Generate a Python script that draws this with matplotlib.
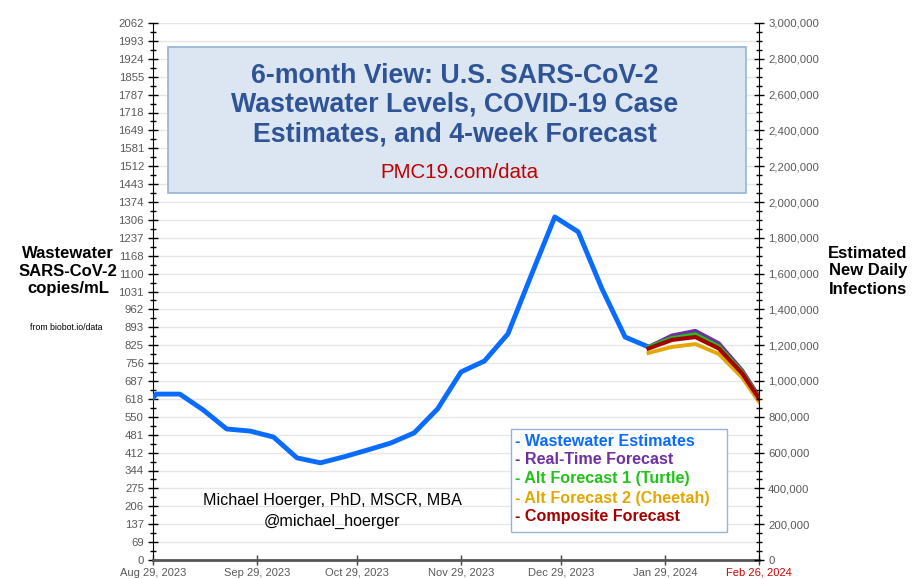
import numpy as np
import pandas as pd
import matplotlib
matplotlib.use("Agg")
import matplotlib.pyplot as plt
from matplotlib.patches import Rectangle
from matplotlib.ticker import FixedLocator, MultipleLocator, FuncFormatter

plt.rcParams['font.family'] = ['Liberation Sans', 'DejaVu Sans']

# =====================================================
# Data
# =====================================================

ww_dates = pd.to_datetime([
    "2023-08-23", "2023-08-30", "2023-09-06", "2023-09-13", "2023-09-20",
    "2023-09-27", "2023-10-04", "2023-10-11", "2023-10-18", "2023-10-25",
    "2023-11-01", "2023-11-08", "2023-11-15", "2023-11-22", "2023-11-29",
    "2023-12-06", "2023-12-13", "2023-12-20", "2023-12-27", "2024-01-03",
    "2024-01-10", "2024-01-17", "2024-01-24",
])
ww_values = [
    540, 637, 637, 576, 503,
    495, 472, 392, 373, 396,
    422, 449, 488, 580, 722,
    764, 868, 1094, 1317, 1260,
    1044, 856, 818,
]

fc_dates = pd.to_datetime([
    "2024-01-24", "2024-01-31", "2024-02-07", "2024-02-14",
    "2024-02-21", "2024-02-26",
])
realtime_fc = [818, 862, 880, 832, 728, 628]
turtle_fc = [818, 852, 866, 820, 722, 624]
cheetah_fc = [795, 818, 829, 791, 700, 607]
composite_fc = [812, 845, 856, 812, 716, 620]

left_max = 2061.57
left_tick_labels = [
    "0", "69", "137", "206", "275", "344", "412", "481", "550", "618",
    "687", "756", "825", "893", "962", "1031", "1100", "1168", "1237",
    "1306", "1374", "1443", "1512", "1581", "1649", "1718", "1787", "1855",
    "1924", "1993", "2062",
]
right_max = 3000000

x_tick_dates = pd.to_datetime([
    "2023-08-29", "2023-09-29", "2023-10-29", "2023-11-29",
    "2023-12-29", "2024-01-29", "2024-02-26",
])
x_tick_labels = [
    "Aug 29, 2023", "Sep 29, 2023", "Oct 29, 2023", "Nov 29, 2023",
    "Dec 29, 2023", "Jan 29, 2024", "Feb 26, 2024",
]

legend_labels = [
    "- Wastewater Estimates",
    "- Real-Time Forecast",
    "- Alt Forecast 1 (Turtle)",
    "- Alt Forecast 2 (Cheetah)",
    "- Composite Forecast",
]

C_BLUE = "#0a6bff"
C_PURPLE = "#7030a0"
C_GREEN = "#1fc31a"
C_YELLOW = "#e3a800"
C_RED = "#a50000"
legend_colors = [C_BLUE, C_PURPLE, C_GREEN, C_YELLOW, C_RED]

# =====================================================
# Figure
# =====================================================

fig = plt.figure(figsize=(9.19, 5.79), dpi=100)
ax = fig.add_axes([153 / 919, 1 - 560 / 579, 606 / 919, 537 / 579])

ax.plot(ww_dates, ww_values, color=C_BLUE, lw=3.5,
        solid_joinstyle="round", solid_capstyle="butt", zorder=5)
ax.plot(fc_dates, realtime_fc, color=C_PURPLE, lw=2.8, zorder=6)
ax.plot(fc_dates, turtle_fc, color=C_GREEN, lw=2.8, zorder=7)
ax.plot(fc_dates, cheetah_fc, color=C_YELLOW, lw=2.8, zorder=8)
ax.plot(fc_dates, composite_fc, color=C_RED, lw=3.0, zorder=9)

ax.set_xlim(pd.Timestamp("2023-08-29"), pd.Timestamp("2024-02-26"))
ax.set_ylim(0, left_max)

# left axis ticks
left_ticks = np.linspace(0, left_max, len(left_tick_labels))
ax.yaxis.set_major_locator(FixedLocator(left_ticks))
ax.set_yticklabels(left_tick_labels)
ax.yaxis.set_minor_locator(FixedLocator(left_ticks[:-1] + (left_ticks[1] - left_ticks[0]) / 2))
ax.tick_params(axis="y", which="major", direction="inout", length=7, width=1,
               colors="black", labelcolor="#595959", labelsize=8.2, pad=3)
ax.tick_params(axis="y", which="minor", direction="inout", length=5, width=1, colors="black")
ax.grid(axis="y", which="major", color="#e6e6e6", lw=1, zorder=0)

# x axis
ax.set_xticks(x_tick_dates)
ax.set_xticklabels(x_tick_labels)
ax.tick_params(axis="x", direction="inout", length=7, width=1, colors="#404040",
               labelcolor="#595959", labelsize=8, pad=2)
ax.get_xticklabels()[-1].set_color("#cc0000")
ax.get_xticklines()[-2].set_color("#cc0000")
ax.get_xticklines()[-1].set_color("#cc0000")

ax.spines["top"].set_visible(False)
ax.spines["right"].set_visible(False)
ax.spines["bottom"].set_color("#555555")
ax.spines["bottom"].set_linewidth(2)
ax.spines["left"].set_color("black")

# right axis
ax2 = ax.twinx()
ax2.set_ylim(0, right_max)
ax2.yaxis.set_major_locator(MultipleLocator(200000))
ax2.yaxis.set_minor_locator(MultipleLocator(50000))
ax2.yaxis.set_major_formatter(FuncFormatter(lambda v, p: f"{int(v):,}"))
ax2.tick_params(axis="y", which="major", direction="inout", length=7, width=1,
                colors="black", labelcolor="#595959", labelsize=8.2, pad=3)
ax2.tick_params(axis="y", which="minor", direction="inout", length=5, width=1, colors="black")
for side in ["top", "bottom", "left"]:
    ax2.spines[side].set_visible(False)
ax2.spines["right"].set_color("black")

# =====================================================
# Title box and annotations
# =====================================================

fig.patches.append(Rectangle((168 / 919, 1 - 193 / 579), 578 / 919, 146 / 579,
                             transform=fig.transFigure, facecolor="#dce6f2",
                             edgecolor="#95b3d7", lw=1.2, zorder=10))
title_lines = [
    "6-month View: U.S. SARS-CoV-2",
    "Wastewater Levels, COVID-19 Case",
    "Estimates, and 4-week Forecast",
]
for i, line in enumerate(title_lines):
    fig.text(455 / 919, 1 - (76 + 29 * i) / 579, line, ha="center", va="center",
             fontsize=19.3, fontweight="bold", color="#2f5496", zorder=11)
fig.text(459 / 919, 1 - 172 / 579, "PMC19.com/data", ha="center", va="center",
         fontsize=14.8, color="#c00000", zorder=11)

fig.text(68 / 919, 1 - 271 / 579, "Wastewater\nSARS-CoV-2\ncopies/mL",
         ha="center", va="center", fontsize=12, fontweight="bold",
         linespacing=1.25, color="black")
fig.text(66 / 919, 1 - 327 / 579, "from biobot.io/data", ha="center", va="center",
         fontsize=6.3, color="black")
fig.text(868 / 919, 1 - 271 / 579, "Estimated\nNew Daily\nInfections",
         ha="center", va="center", fontsize=12, fontweight="bold",
         linespacing=1.25, color="black")

fig.text(332 / 919, 1 - 500 / 579, "Michael Hoerger, PhD, MSCR, MBA",
         ha="center", va="center", fontsize=11.6, color="black")
fig.text(332 / 919, 1 - 521 / 579, "@michael_hoerger",
         ha="center", va="center", fontsize=11.6, color="black")

# legend box
fig.patches.append(Rectangle((511 / 919, 1 - 532 / 579), 216 / 919, 103 / 579,
                             transform=fig.transFigure, facecolor="white",
                             edgecolor="#95b3d7", lw=1, zorder=10))
for i, (lab, col) in enumerate(zip(legend_labels, legend_colors)):
    fig.text(515 / 919, 1 - (441 + 19 * i) / 579, lab, ha="left", va="center",
             fontsize=11.6, fontweight="bold", color=col, zorder=11)

fig.savefig("out.png", dpi=100)
